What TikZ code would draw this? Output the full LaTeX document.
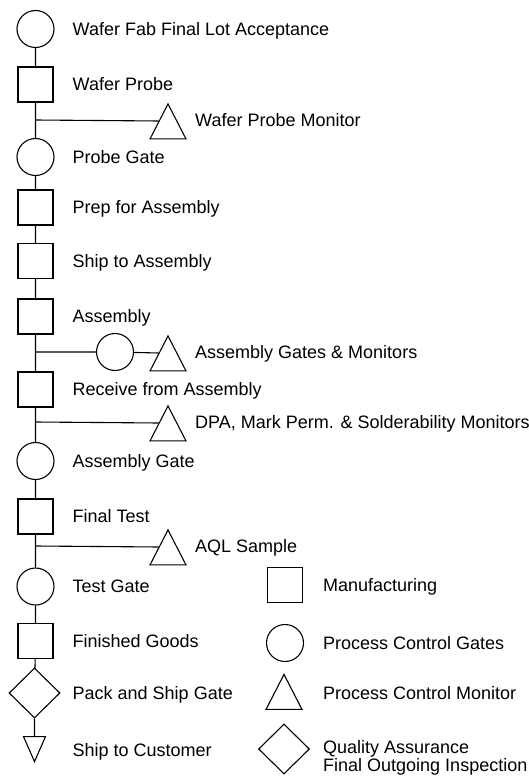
\documentclass[tikz,border=0pt]{standalone}
\usepackage{fontspec}
\setmainfont{Liberation Sans}
\usepackage{tikz}
\usetikzlibrary{positioning, shapes.geometric}
\tikzset{
    % Flow steps
    mfgbox/.style={rectangle, draw, line width=1.1pt, minimum size=35pt, inner sep=0pt},
    gatecirc/.style={circle, draw, line width=1.1pt, minimum size=37pt, inner sep=0pt},
    montri/.style={isosceles triangle, isosceles triangle stretches, shape border rotate=90,
                  draw, line width=1.1pt, minimum width=36pt, minimum height=35pt, inner sep=0pt,
                  anchor=apex},
    qadia/.style={diamond, draw, line width=1.1pt, minimum width=51pt, minimum height=50pt, inner sep=0pt},
    shiptri/.style={isosceles triangle, isosceles triangle stretches, shape border rotate=270,
                  draw, line width=1.1pt, minimum width=22pt, minimum height=25pt, inner sep=0pt,
                  anchor=apex},
    % Labels
    steplbl/.style={font=\fontsize{18}{17}\selectfont, inner sep=0pt,
                   text height=12.9pt, text depth=0pt},
    leglbl/.style={font=\fontsize{18}{17.5}\selectfont, inner sep=0pt, align=left},
    % Connectors
    flow/.style={line width=1.1pt},
}
\begin{document}
\begin{tikzpicture}[x=1pt, y=-1pt]
\useasboundingbox (0,0) rectangle (529,776);

% Main flow
\node[gatecirc] (fablot)   at (35.5,29)  {};
\node[mfgbox]   (wprobe)   at (35.5,84.5) {};
\node[gatecirc] (pgate)    at (35.5,157) {};
\node[mfgbox]   (prep)     at (35.5,207.5) {};
\node[mfgbox]   (shipasm)  at (35.5,261) {};
\node[mfgbox]   (asm)      at (35.5,316.5) {};
\node[mfgbox]   (recv)     at (35.5,389.5) {};
\node[gatecirc] (asmgate)  at (35.5,461) {};
\node[mfgbox]   (ftest)    at (35.5,516.5) {};
\node[gatecirc] (tgate)    at (35.5,586.5) {};
\node[mfgbox]   (fgoods)   at (35.5,641) {};
\node[qadia]    (packgate) at (34.5,693) {};
\node[shiptri]  (shipcust) at (34.5,763) {};

\node[steplbl, right=37pt of fablot.center]   (lfablot)   {Wafer Fab Final Lot Acceptance};
\node[steplbl, right=37pt of wprobe.center]   (lwprobe)   {Wafer Probe};
\node[steplbl, right=37pt of pgate.center]    (lpgate)    {Probe Gate};
\node[steplbl, right=37pt of prep.center]     (lprep)     {Prep for Assembly};
\node[steplbl, right=37pt of shipasm.center]  (lshipasm)  {Ship to Assembly};
\node[steplbl, right=37pt of asm.center]      (lasm)      {Assembly};
\node[steplbl, right=37pt of recv.center]     (lrecv)     {Receive from Assembly};
\node[steplbl, right=37pt of asmgate.center]  (lasmgate)  {Assembly Gate};
\node[steplbl, right=37pt of ftest.center]    (lftest)    {Final Test};
\node[steplbl, right=37pt of tgate.center]    (ltgate)    {Test Gate};
\node[steplbl, right=37pt of fgoods.center]   (lfgoods)   {Finished Goods};
\node[steplbl, right=38pt of packgate.center] (lpackgate) {Pack and Ship Gate};
\node[steplbl, right=38pt of shipcust.apex, yshift=12.5pt] (lshipcust) {Ship to Customer};

\draw[flow] (fablot) -- (wprobe) -- (pgate) -- (prep) -- (shipasm) -- (asm) -- (recv)
    -- (asmgate) -- (ftest) -- (tgate) -- (fgoods) -- (packgate) -- (shipcust);

% Side branches
\coordinate (br1) at (35.5,120);
\coordinate (br2) at (35.5,352);
\coordinate (br3) at (35.5,422);
\coordinate (br4) at (35.5,546);

\node[montri]   (wpmon)  at (168,102.5) {};
\node[gatecirc] (asmg)   at (115,352) {};
\node[montri]   (asmmon) at (168,334.5) {};
\node[montri]   (dpamon) at (168,404.5) {};
\node[montri]   (aql)    at (168,528.5) {};

\draw[flow] (br1) -- (wpmon.left side);
\draw[flow] (br2) -- (asmg) -- (asmmon.left side);
\draw[flow] (br3) -- (dpamon.left side);
\draw[flow] (br4) -- (aql.left side);

\node[steplbl, right=27pt of br1 -| wpmon.apex]  (lwpmon)  {Wafer Probe Monitor};
\node[steplbl, right=27pt of br2 -| asmmon.apex] (lasmmon) {Assembly Gates \& Monitors};
\node[steplbl, right=27pt of br3 -| dpamon.apex] (ldpamon) {DPA, Mark Perm. \& Solderability Monitors};
\node[steplbl, right=27pt of br4 -| aql.apex]    (laql)    {AQL Sample};

% Legend
\node[mfgbox]   (legsq)   at (285,585) {};
\node[gatecirc] (legcirc) at (285,643) {};
\node[montri]   (legtri)  at (284,673) {};
\node[qadia]    (legdia)  at (284,749) {};

\node[steplbl, right=38pt of legsq.center]   (llegsq)   {Manufacturing};
\node[steplbl, right=38pt of legcirc.center] (llegcirc) {Process Control Gates};
\node[steplbl, right=39pt of legtri.apex, yshift=-20pt] (llegtri) {Process Control Monitor};
\node[leglbl, right=39pt of legdia.center, yshift=-9pt] (llegdia) {Quality Assurance\\Final Outgoing Inspection};
\end{tikzpicture}
\end{document}
